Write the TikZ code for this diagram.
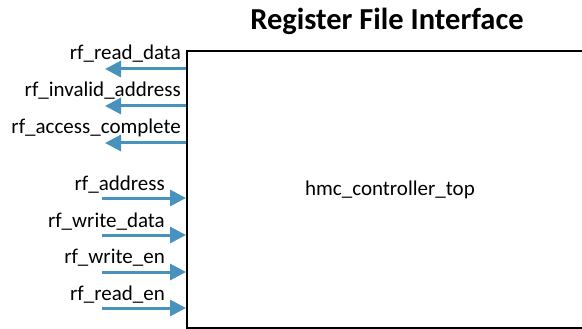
\documentclass[tikz,border=0pt]{standalone}
\usepackage{fontspec}
\setmainfont{Carlito}
\usetikzlibrary{arrows.meta}
\definecolor{sigblue}{RGB}{72,146,190}
\tikzset{
  sig/.style={draw=sigblue, line width=3pt, -{Triangle[length=16pt,width=16pt]}},
  lab/.style={anchor=base east, inner sep=0pt, font=\fontsize{21}{21}\selectfont},
}
\begin{document}
\begin{tikzpicture}[x=1pt,y=-1pt]
\useasboundingbox (0,0) rectangle (582,329);
\begin{scope}
\clip (0,0) rectangle (582,329);
\node (box) [draw, line width=1.6pt, minimum width=420pt, minimum height=277pt, anchor=north west, inner sep=0pt] at (186,50) {};
\end{scope}
\node (title) [font=\bfseries\fontsize{30.5}{30.5}\selectfont, inner sep=0pt] at (387,21) {Register File Interface};
\node (core) [font=\fontsize{21}{21}\selectfont, inner sep=0pt] at (390,190) {hmc\_controller\_top};
% outputs
\coordinate (o1) at (105,69);
\coordinate (o2) at (105,106);
\coordinate (o3) at (105,143);
\draw[sig] (box.west |- o1) -- (o1);
\draw[sig] (box.west |- o2) -- (o2);
\draw[sig] (box.west |- o3) -- (o3);
\node (lo1) [lab] at (181,60) {rf\_read\_data};
\node (lo2) [lab] at (181,97) {rf\_invalid\_address};
\node (lo3) [lab] at (181,134) {rf\_access\_complete};
% inputs
\coordinate (i1) at (102,198);
\coordinate (i2) at (102,235);
\coordinate (i3) at (102,272);
\coordinate (i4) at (102,308);
\draw[sig] (i1) -- (box.west |- i1);
\draw[sig] (i2) -- (box.west |- i2);
\draw[sig] (i3) -- (box.west |- i3);
\draw[sig] (i4) -- (box.west |- i4);
\node (li1) [lab] at (165,190) {rf\_address};
\node (li2) [lab] at (165,227) {rf\_write\_data};
\node (li3) [lab] at (165,263) {rf\_write\_en};
\node (li4) [lab] at (165,300) {rf\_read\_en};
\end{tikzpicture}
\end{document}
